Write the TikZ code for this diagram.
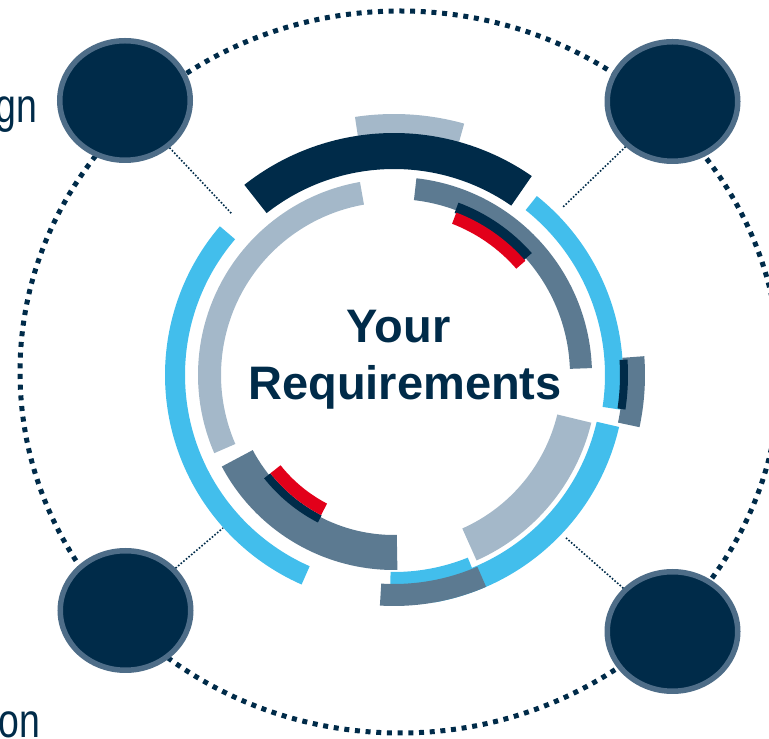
\documentclass[tikz,border=0pt]{standalone}
\usepackage{fontspec}
\setmainfont{Liberation Sans}
\newfontfamily\labelfont[FakeStretch=0.78]{Liberation Sans}
\usetikzlibrary{shapes.geometric,calc}
\definecolor{navy}{RGB}{0,43,73}
\definecolor{lblue}{RGB}{66,190,236}
\definecolor{gblue}{RGB}{92,122,145}
\definecolor{lgrey}{RGB}{164,184,201}
\definecolor{myred}{RGB}{226,0,26}
\definecolor{circborder}{RGB}{78,109,136}
\newcommand{\ringseg}[5]{\fill[#1] ($(C)+(#2:#5)$) arc[start angle=#2, end angle=#3, radius=#5] -- ($(C)+(#3:#4)$) arc[start angle=#3, end angle=#2, radius=#4] -- cycle;}
\begin{document}
\begin{tikzpicture}[x=1pt,y=1pt,
  bigdots/.style={draw=navy, line width=5pt, dash pattern=on 5pt off 5.7pt},
  thindots/.style={draw=navy, line width=1.6pt, dash pattern=on 1.6pt off 1.8pt},
  bignode/.style={ellipse, minimum width=130.5pt, minimum height=119.5pt, inner sep=0pt,
                  fill=navy, draw=circborder, line width=5.5pt},
  title/.style={text=navy, font=\fontsize{47}{56}\selectfont\bfseries, inner sep=0pt},
  sidelabel/.style={text=navy, font=\labelfont\fontsize{48}{56}\selectfont, inner sep=0pt}]
\useasboundingbox (0,0) rectangle (769,739);
\begin{scope}
  \clip (0,0) rectangle (769,739);
  \draw[bigdots] (400,367) ellipse [x radius=380, y radius=361];
  \node[sidelabel, anchor=base east] (lblA) at (37.6,616) {gn};
  \node[sidelabel, anchor=base east] (lblB) at (40.6,1) {on};
\end{scope}
\coordinate (C) at (394,364);
% outer ring pieces
\ringseg{lgrey}{74.4}{98.6}{236}{261}
\ringseg{navy}{55.3}{128.2}{206}{242}
\ringseg{lblue}{139.5}{246.2}{209}{229}
\ringseg{lblue}{-8.7}{51.4}{211}{229}
\ringseg{lblue}{-80}{-13}{208}{231}
\ringseg{lblue}{269}{292}{197}{214}
\ringseg{gblue}{266.5}{293.5}{209}{231}
\ringseg{gblue}{-12}{4.3}{229}{251}
\ringseg{navy}{-8.5}{3.8}{226}{234}
% inner ring pieces
\ringseg{lgrey}{100}{203.5}{173}{196}
\ringseg{gblue}{2}{83.5}{176}{198}
\ringseg{navy}{41.5}{69.5}{173}{184}
\ringseg{myred}{41}{69}{162}{174}
\ringseg{gblue}{208}{271}{160}{195}
\ringseg{navy}{218.5}{242.7}{158}{166}
\ringseg{myred}{218.5}{242.5}{145}{158}
\ringseg{lgrey}{294}{346.4}{168}{203}
% circles
\node[bignode] (tl) at (125,638.5) {};
\node[bignode] (tr) at (672.5,637.5) {};
\node[bignode] (bl) at (125.5,128.5) {};
\node[bignode] (br) at (672.5,107.5) {};
% connector ends
\coordinate (tlend) at (232,525);
\coordinate (trend) at (562,531);
\coordinate (blend) at (223,211);
\coordinate (brend) at (565,202);
\draw[thindots] (tl) -- (tlend);
\draw[thindots] (tr) -- (trend);
\draw[thindots] (bl) -- (blend);
\draw[thindots] (br) -- (brend);
% title
\node[title, anchor=base] (your) at (398.5,396) {Your};
\node[title, anchor=base] (req) at (405,339) {Requirements};
\end{tikzpicture}
\end{document}
